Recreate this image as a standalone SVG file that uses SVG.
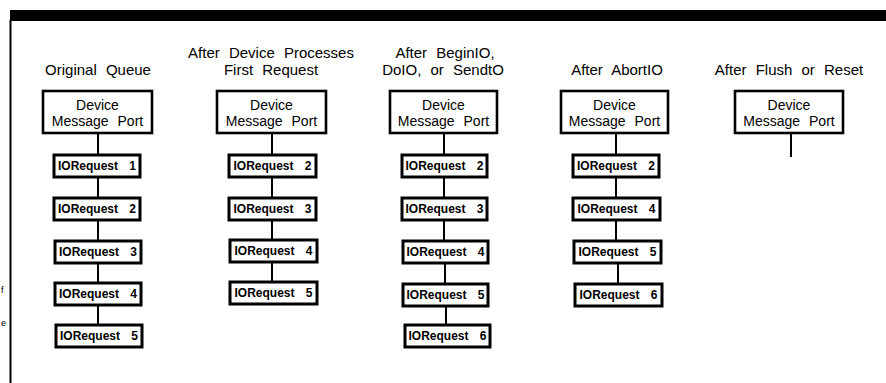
<svg xmlns="http://www.w3.org/2000/svg" width="886" height="383" viewBox="0 0 886 383">
<style>
.title{font-family:"Liberation Sans",Arial,sans-serif;font-size:15px;fill:#000;text-anchor:middle;word-spacing:5px}
.dev{fill:#fff;stroke:#000;stroke-width:2.6}
.devt{font-family:"Liberation Sans",Arial,sans-serif;font-size:14px;fill:#000;text-anchor:middle;word-spacing:5px}
.ior{fill:#fff;stroke:#000;stroke-width:3}
.iort{font-family:"Liberation Sans",Arial,sans-serif;font-size:12px;font-weight:bold;fill:#000;text-anchor:middle;word-spacing:8px}
.conn line{stroke:#000;stroke-width:2}
.frag{font-family:"Liberation Sans",Arial,sans-serif;font-size:9px;fill:#000}
</style>
<rect width="886" height="383" fill="#fff"/>
<rect x="10" y="10" width="876" height="11" fill="#000"/>
<line x1="10.5" y1="20" x2="10.5" y2="383" stroke="#000" stroke-width="2"/>
<text class="frag" x="1" y="293">f</text>
<text class="frag" x="1" y="326">e</text>

<g id="titles">
<text class="title" x="98" y="75">Original Queue</text>
<text class="title" x="271" y="58">After Device Processes</text>
<text class="title" x="271" y="75">First Request</text>
<text class="title" x="445" y="58">After BeginIO,</text>
<text class="title" x="443" y="75">DoIO, or SendtO</text>
<text class="title" x="617" y="75">After AbortIO</text>
<text class="title" x="789" y="75">After Flush or Reset</text>
</g>

<g id="connectors" class="conn">
<line x1="98" y1="133" x2="98" y2="155"/>
<line x1="98" y1="177" x2="98" y2="198"/>
<line x1="98" y1="220" x2="98" y2="241"/>
<line x1="98" y1="263" x2="98" y2="283"/>
<line x1="98" y1="305" x2="98" y2="325"/>
<line x1="272" y1="133" x2="272" y2="155"/>
<line x1="272" y1="177" x2="272" y2="198"/>
<line x1="272" y1="220" x2="272" y2="240"/>
<line x1="272" y1="262" x2="272" y2="282"/>
<line x1="444" y1="133" x2="444" y2="155"/>
<line x1="444" y1="177" x2="444" y2="198"/>
<line x1="444" y1="220" x2="444" y2="241"/>
<line x1="445" y1="263" x2="445" y2="284"/>
<line x1="446" y1="306" x2="446" y2="325"/>
<line x1="616" y1="133" x2="616" y2="155"/>
<line x1="616" y1="177" x2="616" y2="198"/>
<line x1="616" y1="220" x2="616" y2="241"/>
<line x1="618" y1="263" x2="618" y2="284"/>
<line x1="791" y1="133" x2="791" y2="157"/>
</g>

<g id="c1-port"><rect class="dev" x="43" y="91" width="109" height="42"/><text class="devt" x="97.5" y="110">Device</text><text class="devt" x="97.5" y="126">Message Port</text></g>
<g id="c1-r1"><rect class="ior" x="54" y="155" width="86" height="22"/><text class="iort" x="97" y="170">IORequest 1</text></g>
<g id="c1-r2"><rect class="ior" x="54" y="198" width="86" height="22"/><text class="iort" x="97" y="213">IORequest 2</text></g>
<g id="c1-r3"><rect class="ior" x="55" y="241" width="86" height="22"/><text class="iort" x="98" y="256">IORequest 3</text></g>
<g id="c1-r4"><rect class="ior" x="55" y="283" width="86" height="22"/><text class="iort" x="98" y="298">IORequest 4</text></g>
<g id="c1-r5"><rect class="ior" x="56" y="325" width="86" height="22"/><text class="iort" x="99" y="340">IORequest 5</text></g>

<g id="c2-port"><rect class="dev" x="217" y="91" width="109" height="42"/><text class="devt" x="271.5" y="110">Device</text><text class="devt" x="271.5" y="126">Message Port</text></g>
<g id="c2-r2"><rect class="ior" x="229" y="155" width="87" height="22"/><text class="iort" x="272.5" y="170">IORequest 2</text></g>
<g id="c2-r3"><rect class="ior" x="229" y="198" width="87" height="22"/><text class="iort" x="272.5" y="213">IORequest 3</text></g>
<g id="c2-r4"><rect class="ior" x="230" y="240" width="87" height="22"/><text class="iort" x="273.5" y="255">IORequest 4</text></g>
<g id="c2-r5"><rect class="ior" x="230" y="282" width="87" height="22"/><text class="iort" x="273.5" y="297">IORequest 5</text></g>

<g id="c3-port"><rect class="dev" x="390" y="91" width="107" height="42"/><text class="devt" x="443.5" y="110">Device</text><text class="devt" x="443.5" y="126">Message Port</text></g>
<g id="c3-r2"><rect class="ior" x="402" y="155" width="85" height="22"/><text class="iort" x="444.5" y="170">IORequest 2</text></g>
<g id="c3-r3"><rect class="ior" x="402" y="198" width="85" height="22"/><text class="iort" x="444.5" y="213">IORequest 3</text></g>
<g id="c3-r4"><rect class="ior" x="403" y="241" width="85" height="22"/><text class="iort" x="445.5" y="256">IORequest 4</text></g>
<g id="c3-r5"><rect class="ior" x="403" y="284" width="85" height="22"/><text class="iort" x="445.5" y="299">IORequest 5</text></g>
<g id="c3-r6"><rect class="ior" x="405" y="325" width="85" height="22"/><text class="iort" x="447.5" y="340">IORequest 6</text></g>

<g id="c4-port"><rect class="dev" x="561" y="91" width="107" height="42"/><text class="devt" x="614.5" y="110">Device</text><text class="devt" x="614.5" y="126">Message Port</text></g>
<g id="c4-r2"><rect class="ior" x="573" y="155" width="86" height="22"/><text class="iort" x="616" y="170">IORequest 2</text></g>
<g id="c4-r4"><rect class="ior" x="573" y="198" width="87" height="22"/><text class="iort" x="616.5" y="213">IORequest 4</text></g>
<g id="c4-r5"><rect class="ior" x="574" y="241" width="87" height="22"/><text class="iort" x="617.5" y="256">IORequest 5</text></g>
<g id="c4-r6"><rect class="ior" x="575" y="284" width="87" height="22"/><text class="iort" x="618.5" y="299">IORequest 6</text></g>

<g id="c5-port"><rect class="dev" x="735" y="91" width="108" height="42"/><text class="devt" x="789" y="110">Device</text><text class="devt" x="789" y="126">Message Port</text></g>
</svg>
